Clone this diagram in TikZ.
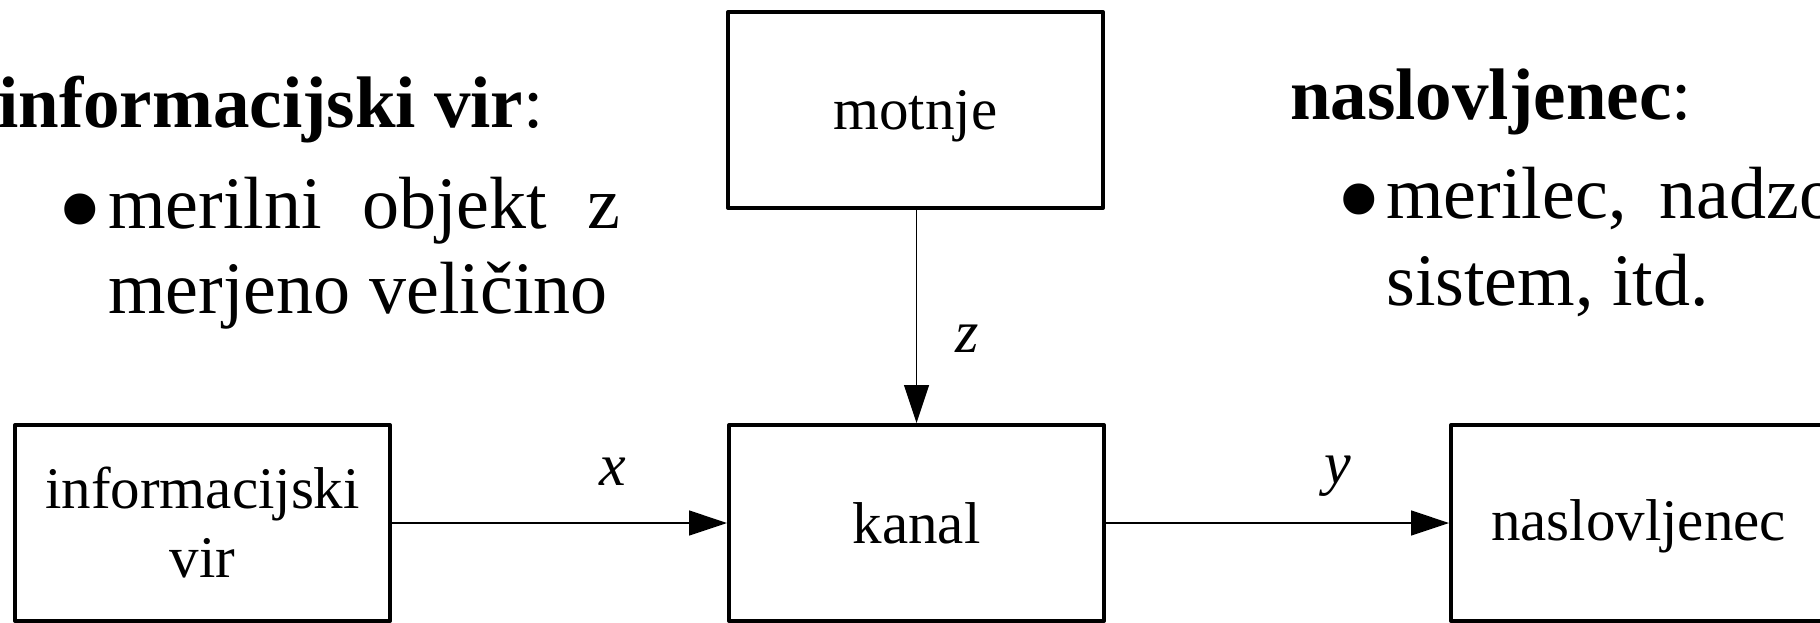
\documentclass[tikz,border=0pt]{standalone}
\usepackage{fontspec}
\setmainfont{Liberation Serif}
\usetikzlibrary{arrows.meta}
\begin{document}
\begin{tikzpicture}[x=1pt,y=-1pt,
  blok/.style={draw, line width=4pt, line join=round, minimum width=375pt,
    minimum height=196pt, inner sep=0pt, align=center,
    font=\fontsize{59}{69}\selectfont},
  tok/.style={line width=1.3pt, -{Triangle[length=38pt,width=25pt]}},
  oznaka/.style={anchor=base west, inner sep=0pt,
    font=\fontsize{60}{60}\selectfont\itshape},
  naslov/.style={anchor=base west, inner sep=0pt,
    font=\fontsize{73}{73}\selectfont},
  alineja/.style={anchor=base west, inner sep=0pt,
    font=\fontsize{74}{85}\selectfont},
  pika/.style={anchor=base west, inner sep=0pt,
    font=\fontsize{130}{130}\selectfont}]
\useasboundingbox (0,0) rectangle (1820,623);
\clip (0,0) rectangle (1820,623);

% blocks of the communication chain
\node[blok] (vir) at (202.5,523) {informacijski\\vir};
\node[blok] (kanal) at (916.5,523) {kanal};
\node[blok, text depth=6pt] (nasl) at (1638.5,523) {naslovljenec};
\node[blok, text depth=0pt] (motnje) at (915.5,110) {motnje};

% signals
\draw[tok] (vir) -- (kanal);
\draw[tok] (kanal) -- (nasl);
\draw[tok] (kanal.north |- motnje.south) -- (kanal.north);

\node[oznaka] (lx) at (599,485) {x};
\node[oznaka] (ly) at (1324,483) {y};
\node[oznaka] (lz) at (955,352) {z};

% explanations
\node[naslov] (h1) at (-2,128) {\textbf{informacijski vir}:};
\node[pika] (b1) at (57,252) {•};
\node[alineja] (t1) at (108,228) {\makebox[512pt][s]{merilni objekt z}};
\node[alineja] (t2) at (108,313) {merjeno veličino};

\node[naslov] (h2) at (1290,120) {\textbf{naslovljenec}:};
\node[pika] (b2) at (1336,242) {•};
\node[alineja] (t3) at (1386,218) {\makebox[532pt][s]{merilec, nadzorni}};
\node[alineja] (t4) at (1386,305) {sistem, itd.};
\end{tikzpicture}
\end{document}
